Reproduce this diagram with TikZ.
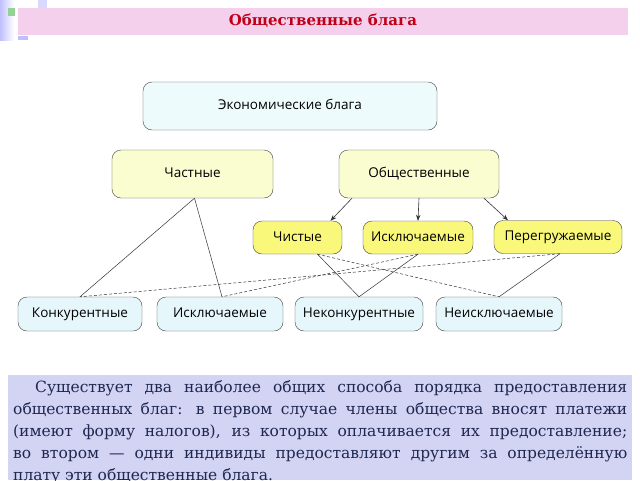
\documentclass[tikz,border=0pt]{standalone}
\usepackage{fontspec}
\setmainfont{DejaVu Serif}
\newfontfamily\diag{Open Sans}
\usetikzlibrary{arrows.meta}
\definecolor{pinkb}{HTML}{F5D0EC}
\definecolor{titlered}{HTML}{C00018}
\definecolor{econ}{HTML}{EEFBFD}
\definecolor{ylight}{HTML}{FAFDD0}
\definecolor{ystrong}{HTML}{FAF87A}
\definecolor{cyanb}{HTML}{E6F7FB}
\definecolor{textbg}{HTML}{D3D3F3}
\definecolor{textfg}{HTML}{1E2850}
\tikzset{
 box/.style={draw=black!75, rounded corners=9pt, inner sep=0pt, text height=10pt, text depth=3pt, font=\diag\fontsize{13.5}{15}\selectfont},
 link/.style={black!80, line width=0.5pt},
 arr/.style={black!80, line width=0.6pt, -{Stealth[length=6pt]}}
}
\begin{document}
\begin{tikzpicture}[x=1pt,y=-1pt]
\useasboundingbox (0,0) rectangle (640,480);
\fill[white] (0,0) rectangle (640,480);
\shade[left color=blue!25, right color=white] (0,0) rectangle (14,40);
\fill[blue!15] (38,0) rectangle (47,8);
\fill[gray!60!green!60] (8,8) rectangle (15,16);
\fill[blue!25] (18,36) rectangle (28,40);
\fill[pinkb] (18,8) rectangle (628,35);
\node[font=\bfseries\fontsize{15}{17}\selectfont, text=titlered] (title) at (323,21) {Общественные блага};
\node[box, fill=econ, minimum width=294pt, minimum height=48pt] (econ) at (290,106) {Экономические блага};
\node[box, fill=ylight, minimum width=161pt, minimum height=48pt] (priv) at (192.5,174) {Частные};
\node[box, fill=ylight, minimum width=160pt, minimum height=48pt] (pub) at (419,174) {Общественные};
\node[box, fill=ystrong, minimum width=89pt, minimum height=33pt] (pure) at (297.5,237.5) {Чистые};
\node[box, fill=ystrong, minimum width=110pt, minimum height=33pt] (excl) at (418,237.5) {Исключаемые};
\node[box, fill=ystrong, minimum width=128pt, minimum height=33pt] (cong) at (558,237) {Перегружаемые};
\node[box, fill=cyanb, minimum width=124pt, minimum height=34pt] (rival) at (80,314) {Конкурентные};
\node[box, fill=cyanb, minimum width=126pt, minimum height=34pt] (bexcl) at (220,314) {Исключаемые};
\node[box, fill=cyanb, minimum width=128pt, minimum height=34pt] (nonriv) at (359,314) {Неконкурентные};
\node[box, fill=cyanb, minimum width=126pt, minimum height=34pt] (nonex) at (499,314) {Неисключаемые};
\draw[arr] ([xshift=-67pt]pub.south) -- ([xshift=33pt]pure.north);
\draw[arr] (pub.south) -- (excl.north);
\draw[arr] ([xshift=65pt]pub.south) -- ([xshift=-50pt]cong.north);
\draw[link] ([xshift=2pt]priv.south) -- (rival.north);
\draw[link] ([xshift=2pt]priv.south) -- ([xshift=2pt]bexcl.north);
\draw[link] ([xshift=20pt]pure.south) -- (nonriv.north);
\draw[link,densely dashed] ([xshift=20pt]pure.south) -- (nonex.north);
\draw[link] (excl.south) -- (nonriv.north);
\draw[link,densely dashed] (excl.south) -- ([xshift=2pt]bexcl.north);
\draw[link,densely dashed] ([xshift=2pt]cong.south) -- (rival.north);
\draw[link] ([xshift=2pt]cong.south) -- (nonex.north);
\fill[textbg] (8,375) rectangle (632,480);
\begin{scope}
\clip (8,375) rectangle (632,480);
\node[anchor=north west, inner sep=0pt, text=textfg, font=\fontsize{15.5}{22}\selectfont, text width=614pt, align=justify] (para) at (13,380) {%
\hspace*{22pt}Существует два наиболее общих способа порядка предоставления\linebreak
общественных благ: в~первом случае члены общества вносят платежи\linebreak
(имеют форму налогов), из которых оплачивается их предоставление;\linebreak
во втором — одни индивиды предоставляют другим за определённую\linebreak
плату эти общественные блага.};
\end{scope}
\end{tikzpicture}
\end{document}
